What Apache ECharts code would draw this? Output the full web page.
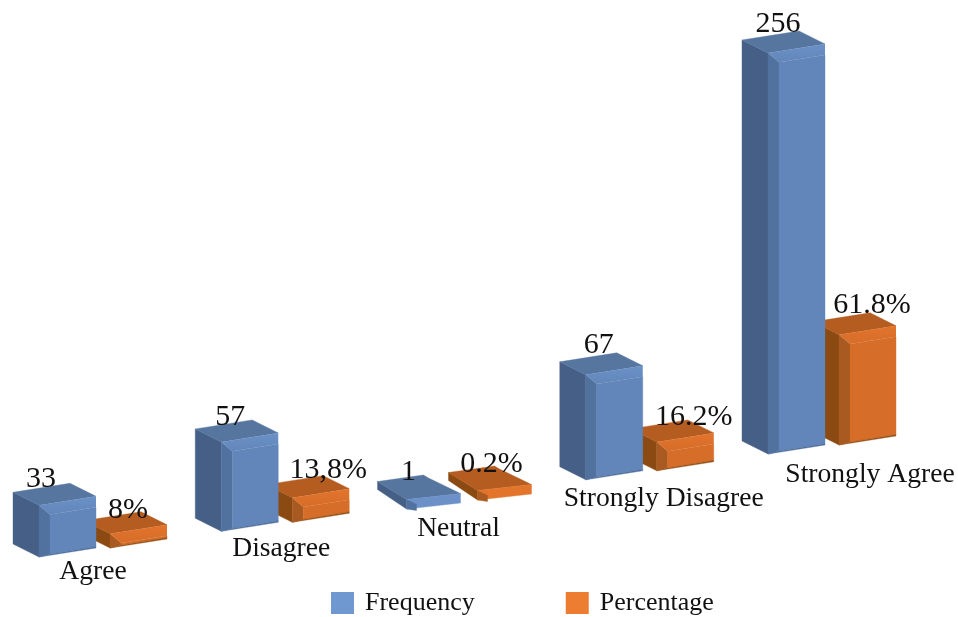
<!DOCTYPE html>
<html><head><meta charset="utf-8">
<style>html,body{margin:0;padding:0;background:#fff}#c{width:958px;height:617px}</style>
<script src="https://cdn.jsdelivr.net/npm/echarts@6/dist/echarts.min.js"></script>
</head><body><div id="c"></div>
<script>
const categories = ['Agree','Disagree','Neutral','Strongly Disagree','Strongly Agree'];
const frequency = [33,57,1,67,256];
const percentage = [8,13.8,0.2,16.2,61.8];
const frequencyLabels = ['33','57','1','67','256'];
const percentageLabels = ['8%','13,8%','0.2%','16.2%','61.8%'];

// layout constants of the fake-3D projection
const FONT = '"Liberation Serif","Times New Roman",serif';
const RISE = 25.75, RW = 57, RD = -9, LW = -26, LD = -13;
const PCT_DX = 71, PCT_DY = -9, MIN_H = 8;
const catNudge = [[54,15],[60,17],[55,23],[78,19],[102,21]];
const freqNudge = [[2,-26],[9,-25],[5,-25],[13,-30],[10,-29]];
const pctNudge = [[18,-24],[36,-28],[17,-24],[37,-25],[33,-30]];
const BLUE = {front:'#6286b9',strip:'#6b91c8',inner:'#51719e',left:'#465f86',top:'#56769f',foot:'#4f709f',legend:'#6f97d0'};
const ORANGE = {front:'#d66d29',strip:'#e3742c',inner:'#a95a20',left:'#8a4a12',top:'#b55c20',foot:'#9a5216',legend:'#ed7d31'};

function poly(points, fill){ return {type:'polygon',shape:{points},style:{fill,stroke:typeof fill==='string'?fill:null,lineWidth:0.4}}; }
function text(str,x,y,size){ return {type:'text',z2:50,style:{text:str,x,y,fill:'#111',font:size+'px '+FONT,align:'center',verticalAlign:'middle'}}; }
function fade(from,to){ return {type:'linear',x:0,y:0,x2:0,y2:1,colorStops:[{offset:0,color:from},{offset:1,color:to}]}; }

function box(x,y,h,c){
  const t=y-h, b=Math.min(11,h*0.8), inset=Math.min(11,h*0.9);
  const F=[x,t], R=[x+RW,t+RD], L=[x+LW,t+LD], B=[x+RW+LW,t+RD+LD];
  const Fb=[x,y], Rb=[x+RW,y+RD], Lb=[x+LW,y+LD];
  const I=[x+inset,t+RD*inset/RW+b], Ib=[x+inset,y+RD*inset/RW-1];
  const Rs=[x+RW,t+RD+b], Rf=[x+RW,y+RD-1.5];
  return [
    poly([L,F,Fb,Lb],c.left),
    poly([L,B,R,F],c.top),
    poly([F,Fb,Ib,I],c.inner),
    poly([I,Rs,Rf,Ib],c.front),
    poly([F,R,Rs,I],fade(c.strip,c.front)),
    poly([Fb,Rb,Rf,Ib],c.foot)
  ];
}
// Bars too short for a bevel collapse into a notched slab
function slab(x,y,c){
  const p=(dx,dy)=>[x+dx,y+dy];
  const L=p(-26,-24),Lb=p(-26,-16),B1=p(20,-30.5),B2=p(25,-27.5),R=p(57,-12),Rb=p(57,-2.5),Fb=p(3,3.5),F=p(3,-6);
  return [
    poly([L,F,Fb,Lb],c.left),
    poly([L,B1,B2,R,F],c.top),
    poly([F,R,Rb,Fb],c.strip),
    poly([F,p(13,-1),p(13,5),Fb],c.inner)
  ];
}
function renderer(colors,isPct,labels,nudge){
  return function(params,api){
    const i=api.value(0), v=api.value(1);
    const base=api.coord([i,0]), top=api.coord([i,v]);
    const raw=base[1]-top[1], h=Math.max(MIN_H,raw);
    const x=base[0]+(isPct?PCT_DX:0), y=base[1]-RISE*i+(isPct?PCT_DY:0);
    const kids=raw<MIN_H?slab(x,y,colors):box(x,y,h,colors);
    kids.push(text(labels[i],x+nudge[i][0],y-h+nudge[i][1],30));
    if(!isPct) kids.push(text(categories[i],base[0]+catNudge[i][0],y+catNudge[i][1],27.6));
    return {type:'group',children:kids};
  };
}
const chart=echarts.init(document.getElementById('c'),null,{renderer:'canvas'});
chart.setOption({
  animation:false,
  backgroundColor:'#fff',
  grid:{left:39,right:190,top:156,bottom:60},
  xAxis:{type:'category',data:categories,boundaryGap:false,show:false},
  yAxis:[{type:'value',min:0,max:256,show:false},{type:'value',min:0,max:225,show:false}],
  legend:{
    left:331,top:590,padding:0,itemWidth:23,itemHeight:22,itemGap:91,icon:'rect',
    textStyle:{fontFamily:FONT,fontSize:26,color:'#111',padding:[0,0,0,6]},
    data:[{name:'Frequency',itemStyle:{color:BLUE.legend}},{name:'Percentage',itemStyle:{color:ORANGE.legend}}]
  },
  series:[
    {name:'Frequency',type:'custom',z:3,yAxisIndex:0,itemStyle:{color:BLUE.legend},encode:{x:0,y:1},
     data:frequency.map((v,i)=>[i,v]),renderItem:renderer(BLUE,false,frequencyLabels,freqNudge)},
    {name:'Percentage',type:'custom',z:2,yAxisIndex:1,itemStyle:{color:ORANGE.legend},encode:{x:0,y:1},
     data:percentage.map((v,i)=>[i,v]),renderItem:renderer(ORANGE,true,percentageLabels,pctNudge)}
  ]
});
</script></body></html>
